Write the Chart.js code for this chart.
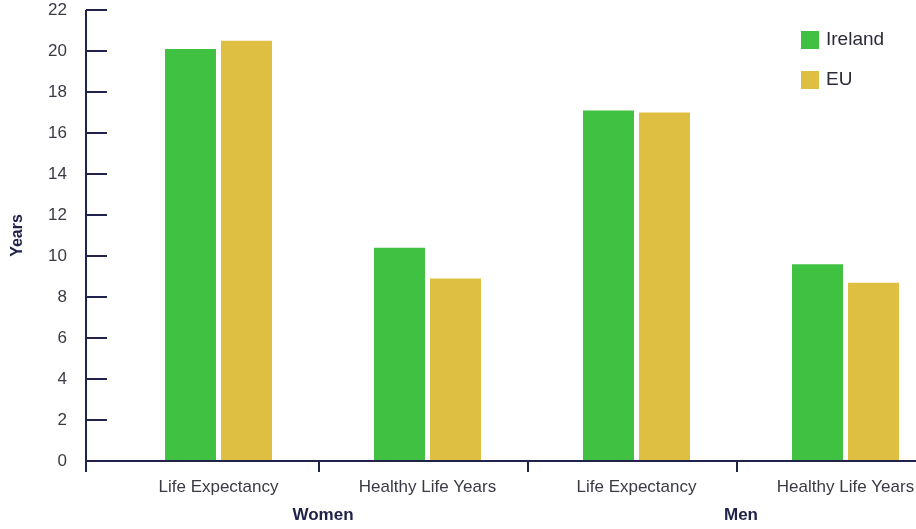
<!DOCTYPE html>
<html lang="en">
<head>
    <meta charset="UTF-8">
    <title>Life Expectancy and Healthy Life Years</title>
    <script src="https://cdn.jsdelivr.net/npm/chart.js"></script>
    <style>
        body { margin: 0; overflow: hidden; background: #fff; }
        #wrap { width: 960px; height: 529px; }
    </style>
</head>
<body>
    <div id="wrap">
        <canvas id="lifeChart" width="960" height="529"></canvas>
    </div>
    <script>
        const categories = ["Life Expectancy", "Healthy Life Years", "Life Expectancy", "Healthy Life Years"];
        const groups = ["Women", "Men"];
        const irelandValues = [20.1, 10.4, 17.1, 9.6];
        const euValues = [20.5, 8.9, 17.0, 8.7];
        const yTicks = [0, 2, 4, 6, 8, 10, 12, 14, 16, 18, 20, 22];

        const GREEN = "#41c141";
        const GOLD = "#dfbf42";
        const AXIS = "#22234a";
        const TEXT = "#3a3a44";
        const FONT = "'Liberation Sans', Arial, Helvetica, sans-serif";

        // axis lines, inward ticks and the legend are drawn by hand
        const axisPainter = {
            id: "axisPainter",
            afterDraw(chart) {
                const { ctx, scales: { x, y } } = chart;
                const axisX = chart.chartArea.left - 28;
                const zeroY = y.getPixelForValue(0);
                ctx.save();
                ctx.strokeStyle = AXIS;
                ctx.lineWidth = 2;

                ctx.beginPath();
                ctx.moveTo(axisX, y.getPixelForValue(yTicks[yTicks.length - 1]));
                ctx.lineTo(axisX, zeroY + 11);
                ctx.moveTo(axisX, zeroY);
                ctx.lineTo(chart.width, zeroY);
                yTicks.forEach(v => {
                    if (v === 0) return;
                    const py = y.getPixelForValue(v);
                    ctx.moveTo(axisX, py);
                    ctx.lineTo(axisX + 21, py);
                });
                for (let i = 0; i < categories.length - 1; i++) {
                    const px = (x.getPixelForValue(i) + x.getPixelForValue(i + 1)) / 2 - 4;
                    ctx.moveTo(px, zeroY);
                    ctx.lineTo(px, zeroY + 11);
                }
                ctx.stroke();

                ctx.font = "19px " + FONT;
                ctx.textBaseline = "middle";
                chart.data.datasets.forEach((ds, i) => {
                    const top = 31 + i * 40;
                    ctx.fillStyle = ds.backgroundColor;
                    ctx.fillRect(801, top, 18, 18);
                    ctx.fillStyle = "#2a2a38";
                    ctx.fillText(ds.label, 826, top + 9);
                });
                ctx.restore();
            }
        };

        new Chart(document.getElementById("lifeChart"), {
            type: "bar",
            data: {
                labels: categories,
                datasets: [
                    { label: "Ireland", data: irelandValues, backgroundColor: GREEN },
                    { label: "EU", data: euValues, backgroundColor: GOLD }
                ]
            },
            options: {
                responsive: false,
                animation: false,
                layout: { padding: { top: 10, right: 10, left: 0, bottom: 0 } },
                datasets: {
                    bar: { categoryPercentage: 0.536, barPercentage: 0.91 }
                },
                plugins: {
                    legend: { display: false },
                    tooltip: { enabled: false }
                },
                scales: {
                    x: {
                        weight: 0,
                        grid: { display: false, drawTicks: false },
                        border: { display: false },
                        ticks: { color: TEXT, font: { family: FONT, size: 17 }, padding: 16 },
                        afterFit(scale) { scale.height = 40; }
                    },
                    x2: {
                        type: "category",
                        labels: groups,
                        position: "bottom",
                        weight: 1,
                        offset: true,
                        grid: { display: false, drawTicks: false },
                        border: { display: false },
                        ticks: { color: AXIS, font: { family: FONT, size: 17, weight: "bold" }, padding: 4 },
                        afterFit(scale) { scale.height = 28; }
                    },
                    y: {
                        min: 0,
                        max: 22,
                        grid: { display: false, drawTicks: false },
                        border: { display: false },
                        afterBuildTicks(scale) { scale.ticks = yTicks.map(v => ({ value: v })); },
                        ticks: { color: TEXT, font: { family: FONT, size: 17 }, padding: 47 },
                        title: {
                            display: true,
                            text: "Years",
                            color: AXIS,
                            font: { family: FONT, size: 16, weight: "bold" },
                            padding: { top: 8, bottom: 0 }
                        },
                        afterFit(scale) {
                            scale.width = 114;
                            scale.paddingTop = 0;
                            scale.paddingBottom = 0;
                        }
                    }
                }
            },
            plugins: [axisPainter]
        });
    </script>
</body>
</html>
